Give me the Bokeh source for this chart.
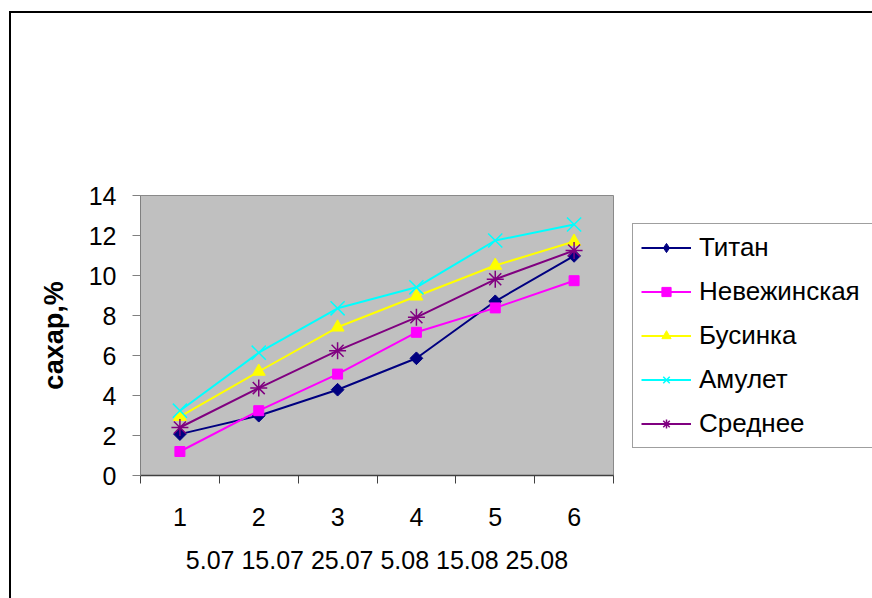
from bokeh.plotting import figure
from bokeh.models import Range1d, FixedTicker, LinearAxis, Legend, LegendItem
from bokeh.embed import file_html
from bokeh.resources import INLINE

# sampling points and their dates
points = [1, 2, 3, 4, 5, 6]
point_labels = ["1", "2", "3", "4", "5", "6"]
dates = ["5.07", "15.07", "25.07", "5.08", "15.08", "25.08"]

# sugar content, %
titan = [2.07, 2.99, 4.29, 5.86, 8.71, 10.98]
nevezhinskaya = [1.20, 3.24, 5.07, 7.16, 8.38, 9.74]
businka = [2.94, 5.20, 7.41, 8.96, 10.50, 11.70]
amulet = [3.24, 6.14, 8.36, 9.41, 11.75, 12.55]
srednee = [2.40, 4.37, 6.24, 7.91, 9.81, 11.25]

y_ticks = [0, 2, 4, 6, 8, 10, 12, 14]

FONT = "Liberation Sans"

p = figure(frame_width=473, frame_height=280, output_backend="svg",
           toolbar_location=None,
           x_range=Range1d(0.5, 6.5), y_range=Range1d(0, 14),
           x_axis_type=None, y_axis_type=None,
           min_border_left=140, min_border_right=259,
           min_border_top=195, min_border_bottom=123)
p.background_fill_color = "#C0C0C0"
# transparent canvas border so the chart-area frame drawn by the element shows
p.border_fill_alpha = 0
p.styles = {
    "background-color": "white",
    "box-shadow": "inset 9px 11px 0 0 white, inset 11px 13px 0 0 black",
}
p.outline_line_color = "#8A8A8A"
p.outline_line_width = 1

# y axis
yaxis = LinearAxis(ticker=FixedTicker(ticks=y_ticks))
yaxis.axis_line_color = "#808080"
yaxis.major_tick_line_color = "#808080"
yaxis.major_tick_in = 0
yaxis.major_tick_out = 8
yaxis.minor_tick_line_color = None
yaxis.major_label_text_font = FONT
yaxis.major_label_text_font_size = "25px"
yaxis.major_label_text_color = "black"
yaxis.major_label_standoff = 16
yaxis.axis_label = "сахар,%"
yaxis.axis_label_text_font = FONT
yaxis.axis_label_text_font_size = "27px"
yaxis.axis_label_text_font_style = "bold"
yaxis.axis_label_text_color = "black"
yaxis.axis_label_standoff = 17
p.add_layout(yaxis, "left")

# x axis: labels at point centres, ticks at the boundaries between them
xticker = FixedTicker(ticks=points, minor_ticks=[x - 0.5 for x in points] + [6.5])
xaxis = LinearAxis(ticker=xticker)
xaxis.axis_line_color = "#404040"
xaxis.axis_line_width = 1.5
xaxis.major_tick_line_color = None
xaxis.major_tick_in = 0
xaxis.major_tick_out = 0
xaxis.minor_tick_line_color = "#404040"
xaxis.minor_tick_in = 0
xaxis.minor_tick_out = 8
xaxis.major_label_overrides = {x: lab for x, lab in zip(points, point_labels)}
xaxis.major_label_text_font = FONT
xaxis.major_label_text_font_size = "25px"
xaxis.major_label_text_color = "black"
xaxis.major_label_standoff = 24
xaxis.axis_label = " ".join(dates)
xaxis.axis_label_text_font = FONT
xaxis.axis_label_text_font_size = "25px"
xaxis.axis_label_text_font_style = "normal"
xaxis.axis_label_text_color = "black"
xaxis.axis_label_standoff = 17
p.add_layout(xaxis, "below")

p.ygrid.ticker = FixedTicker(ticks=[2, 4, 6, 8, 10, 12])
p.ygrid.grid_line_color = "black"
p.ygrid.grid_line_width = 1
p.xgrid.grid_line_color = None

# name, values, colour, plot marker, size, angle, marker line width, legend marker
series = [
    ("Титан", titan, "#000080", "square", 9, 0.785398, 1, "diamond"),
    ("Невежинская", nevezhinskaya, "#FF00FF", "square", 10, 0, 1, None),
    ("Бусинка", businka, "#FFFF00", "triangle", 13, 0, 1, None),
    ("Амулет", amulet, "#00FFFF", "x", 20, 0, 1.5, None),
    ("Среднее", srednee, "#800080", "asterisk", 17, 0, 1.5, None),
]

items = []
for name, vals, color, marker, size, angle, mlw, key_marker in series:
    ln = p.line(points, vals, line_color=color, line_width=2)
    mk = p.scatter(points, vals, marker=marker, size=size, angle=angle,
                   fill_color=color, line_color=color, line_width=mlw)
    key = mk
    if key_marker is not None:
        # the legend key uses an upright diamond; the rotated square is drawn
        key = p.scatter(points, vals, marker=key_marker, size=size,
                        fill_color=color, line_color=color, visible=False)
    items.append(LegendItem(label=name, renderers=[ln, key]))

legend = Legend(items=items, location=(19, 27))
legend.label_text_font = FONT
legend.label_text_font_size = "26px"
legend.label_text_color = "black"
legend.glyph_width = 50
legend.glyph_height = 23
legend.label_height = 23
legend.label_width = 175
legend.label_standoff = 8
legend.spacing = 13
legend.padding = 8
legend.margin = 0
legend.border_line_color = "#404040"
legend.border_line_width = 1.5
legend.background_fill_color = "white"
legend.background_fill_alpha = 1
p.add_layout(legend, "right")

open("out.html", "w").write(file_html(p, INLINE))
